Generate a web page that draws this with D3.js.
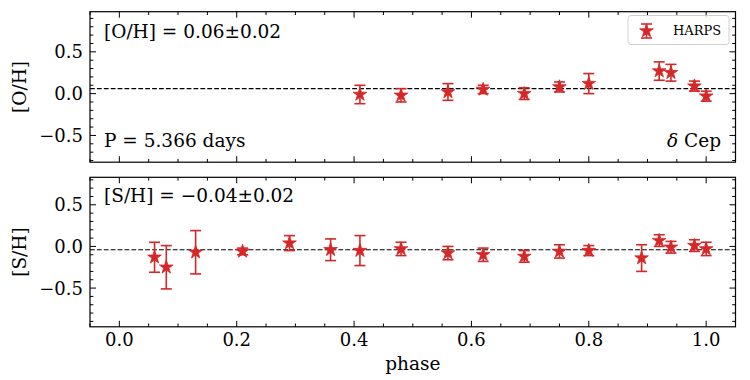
<!DOCTYPE html>
<html>
<head>
<meta charset="utf-8">
<script src="https://cdn.jsdelivr.net/npm/d3@7"></script>
<style>
  body { margin: 0; background: #fff; }
  text { font-family: "DejaVu Serif", serif; fill: #000; }
</style>
</head>
<body>
<svg id="chart" width="750" height="380"></svg>
<script>
// phases and abundances
const ohPhase = [0.41, 0.48, 0.56, 0.62, 0.69, 0.75, 0.80, 0.92, 0.94, 0.98, 1.00];
const ohValue = [-0.01, -0.02, 0.02, 0.05, 0.00, 0.08, 0.12, 0.27, 0.25, 0.09, -0.03];
const ohError = [0.11, 0.08, 0.10, 0.05, 0.07, 0.06, 0.12, 0.11, 0.10, 0.06, 0.06];

const shPhase = [0.06, 0.08, 0.13, 0.21, 0.29, 0.36, 0.41, 0.48, 0.56, 0.62, 0.69, 0.75, 0.80, 0.89, 0.92, 0.94, 0.98, 1.00];
const shValue = [-0.13, -0.25, -0.07, -0.06, 0.04, -0.04, -0.05, -0.03, -0.08, -0.10, -0.12, -0.06, -0.05, -0.14, 0.07, -0.01, 0.01, -0.03];
const shError = [0.18, 0.26, 0.26, 0.04, 0.09, 0.13, 0.18, 0.08, 0.08, 0.08, 0.07, 0.08, 0.06, 0.16, 0.07, 0.07, 0.07, 0.08];

const ohMean = 0.06, shMean = -0.04;
const xTicks = [0.0, 0.2, 0.4, 0.6, 0.8, 1.0];
const yTicks = [-0.5, 0.0, 0.5];

const red = "#d62728";
const svg = d3.select("#chart");

const left = 90, right = 735.5;
const x = d3.scaleLinear().domain([-0.05, 1.05]).range([left, right]);

const panels = [
  { phase: ohPhase, value: ohValue, err: ohError, mean: ohMean, label: "[O/H]",
    y: d3.scaleLinear().domain([-0.82, 0.98]).range([162.2, 11.7]), top: 11.7, bottom: 162.2 },
  { phase: shPhase, value: shValue, err: shError, mean: shMean, label: "[S/H]",
    y: d3.scaleLinear().domain([-0.965, 0.83]).range([326.8, 177.3]), top: 177.3, bottom: 326.8 }
];

const fmt = d => d3.format(".1f")(d).replace("-", "\u2212");
const star = d3.symbol().type(d3.symbolStar).size(58);

panels.forEach((p, i) => {
  const g = svg.append("g");
  const y = p.y;

  // inward ticks on all four sides
  const minorX = d3.range(-0.05, 1.051, 0.05).map(v => +v.toFixed(2));
  const minorY = d3.range(-0.9, 0.91, 0.1).map(v => +v.toFixed(1)).filter(v => v > y.domain()[0] && v < y.domain()[1]);

  const ticks = g.append("g").attr("stroke", "#000").attr("stroke-width", 1);
  minorX.forEach(v => {
    const len = xTicks.some(t => Math.abs(t - v) < 1e-6) ? 6 : 3.3;
    ticks.append("line").attr("x1", x(v)).attr("x2", x(v)).attr("y1", p.bottom).attr("y2", p.bottom - len);
    ticks.append("line").attr("x1", x(v)).attr("x2", x(v)).attr("y1", p.top).attr("y2", p.top + len);
  });
  minorY.forEach(v => {
    const len = yTicks.some(t => Math.abs(t - v) < 1e-6) ? 6 : 3.3;
    ticks.append("line").attr("y1", y(v)).attr("y2", y(v)).attr("x1", left).attr("x2", left + len);
    ticks.append("line").attr("y1", y(v)).attr("y2", y(v)).attr("x1", right).attr("x2", right - len);
  });

  g.append("rect").attr("x", left).attr("y", p.top).attr("width", right - left).attr("height", p.bottom - p.top)
    .attr("fill", "none").attr("stroke", "#000").attr("stroke-width", 1.2);

  // y tick labels
  g.selectAll(".yl").data(yTicks).enter().append("text")
    .attr("x", 83).attr("y", d => y(d)).attr("dy", "0.36em")
    .attr("text-anchor", "end").attr("font-size", 18).text(fmt);

  // y axis label
  g.append("text").attr("transform", `translate(26,${(p.top + p.bottom) / 2}) rotate(-90)`)
    .attr("text-anchor", "middle").attr("font-size", 18.5).text(p.label);

  // mean line
  g.append("line").attr("x1", left).attr("x2", right).attr("y1", y(p.mean)).attr("y2", y(p.mean))
    .attr("stroke", "#000").attr("stroke-width", 1.2).attr("stroke-dasharray", "4.8,2.1");

  // error bars
  const pts = p.phase.map((ph, k) => ({ ph, v: p.value[k], e: p.err[k] }));
  const eb = g.append("g").attr("stroke", red).attr("stroke-width", 1.6);
  pts.forEach(d => {
    eb.append("line").attr("x1", x(d.ph)).attr("x2", x(d.ph)).attr("y1", y(d.v - d.e)).attr("y2", y(d.v + d.e));
    [d.v - d.e, d.v + d.e].forEach(c => {
      eb.append("line").attr("x1", x(d.ph) - 5.5).attr("x2", x(d.ph) + 5.5).attr("y1", y(c)).attr("y2", y(c));
    });
  });
  g.selectAll(".st").data(pts).enter().append("path")
    .attr("d", star).attr("transform", d => `translate(${x(d.ph)},${y(d.v)})`)
    .attr("fill", red).attr("stroke", red).attr("stroke-width", 0.8);

  if (i === 1) {
    g.selectAll(".xl").data(xTicks).enter().append("text")
      .attr("x", d => x(d)).attr("y", 346).attr("text-anchor", "middle").attr("font-size", 18).text(fmt);
    g.append("text").attr("x", (left + right) / 2).attr("y", 369.5).attr("text-anchor", "middle")
      .attr("font-size", 18.5).text("phase");
  }
});

// annotations
svg.append("text").attr("x", 104).attr("y", 37.5).attr("font-size", 18.5).text("[O/H] = 0.06\u00b10.02");
svg.append("text").attr("x", 104).attr("y", 147).attr("font-size", 18.5).text("P = 5.366 days");
const cep = svg.append("text").attr("x", 721).attr("y", 147).attr("text-anchor", "end").attr("font-size", 18.5);
cep.append("tspan").attr("font-style", "italic").text("\u03b4");
cep.append("tspan").text(" Cep");
svg.append("text").attr("x", 104).attr("y", 202).attr("font-size", 18.5).text("[S/H] = \u22120.04\u00b10.02");

// legend
const lg = svg.append("g");
lg.append("rect").attr("x", 628).attr("y", 15.5).attr("width", 101).attr("height", 29).attr("rx", 3)
  .attr("fill", "#fff").attr("fill-opacity", 0.8).attr("stroke", "#d0d0d0").attr("stroke-width", 1);
lg.append("line").attr("x1", 646.5).attr("x2", 646.5).attr("y1", 24).attr("y2", 38).attr("stroke", red).attr("stroke-width", 1.6);
[24, 38].forEach(c => lg.append("line").attr("x1", 641).attr("x2", 652).attr("y1", c).attr("y2", c)
  .attr("stroke", red).attr("stroke-width", 1.6));
lg.append("path").attr("d", star).attr("transform", "translate(646.5,31)").attr("fill", red).attr("stroke", red).attr("stroke-width", 0.8);
lg.append("text").attr("x", 673).attr("y", 35).attr("font-size", 13).text("HARPS");
</script>
</body>
</html>
